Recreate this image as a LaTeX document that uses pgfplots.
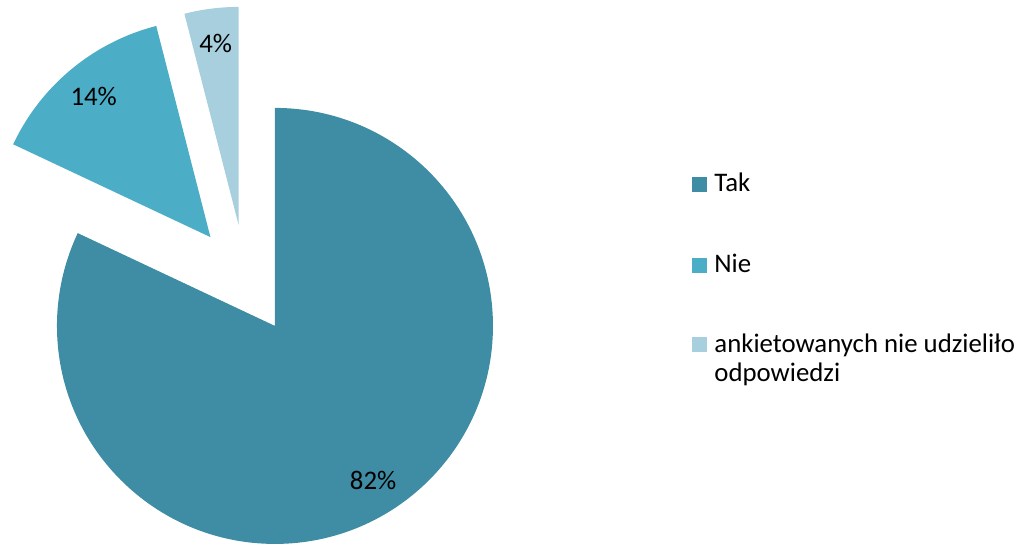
\documentclass[border=0pt]{standalone}
\usepackage{pgfplots}
\pgfplotsset{compat=1.18}
\usepackage{pgfplotstable}
\usepackage{fontspec}
\setmainfont{Carlito}
\definecolor{cTak}{HTML}{3E8DA4}
\definecolor{cNie}{HTML}{4BADC6}
\definecolor{cBrak}{HTML}{A8CFDD}

\pgfplotstableread[col sep=comma]{
label,value
Tak,82
Nie,14
Brak,4
}\piedata

\begin{document}
\begin{tikzpicture}
\pgfplotstablegetelem{0}{value}\of\piedata \let\vA\pgfplotsretval
\pgfplotstablegetelem{1}{value}\of\piedata \let\vB\pgfplotsretval
\pgfplotstablegetelem{2}{value}\of\piedata \let\vC\pgfplotsretval
% geometry in px (axis units), y up
\def\cx{245.5}\def\cy{265.5}\def\dd{55}\def\rr{218}\def\lr{0.84}
\pgfmathsetmacro\aA{90-3.6*\vA}
\pgfmathsetmacro\aB{\aA-3.6*\vB}
\pgfmathsetmacro\aC{\aB-3.6*\vC}
\pgfmathsetmacro\mA{(90+\aA)/2}
\pgfmathsetmacro\mB{(\aA+\aB)/2}
\pgfmathsetmacro\mC{(\aB+\aC)/2}
\pgfmathsetmacro\pAx{\cx+\dd*cos(\mA)}\pgfmathsetmacro\pAy{\cy+\dd*sin(\mA)}
\pgfmathsetmacro\pBx{\cx+\dd*cos(\mB)}\pgfmathsetmacro\pBy{\cy+\dd*sin(\mB)}
\pgfmathsetmacro\pCx{\cx+\dd*cos(\mC)}\pgfmathsetmacro\pCy{\cy+\dd*sin(\mC)}
\pgfmathsetmacro\lAx{\pAx+\lr*\rr*cos(\mA)}\pgfmathsetmacro\lAy{\pAy+\lr*\rr*sin(\mA)}
\pgfmathsetmacro\lBx{\pBx+\lr*\rr*cos(\mB)}\pgfmathsetmacro\lBy{\pBy+\lr*\rr*sin(\mB)}
\pgfmathsetmacro\lCx{\pCx+\lr*\rr*cos(\mC)}\pgfmathsetmacro\lCy{\pCy+\lr*\rr*sin(\mC)}
\begin{axis}[
  x=0.5pt, y=0.5pt,
  xmin=0, xmax=1026, ymin=0, ymax=545,
  hide axis, clip=false,
]
\path (axis cs:0,0) rectangle (axis cs:1026,545);
\fill[cTak] (axis cs:\pAx,\pAy) -- ++(90:109pt) arc[start angle=90, end angle=\aA, radius=109pt] -- cycle;
\fill[cNie] (axis cs:\pBx,\pBy) -- ++(\aA:109pt) arc[start angle=\aA, end angle=\aB, radius=109pt] -- cycle;
\fill[cBrak] (axis cs:\pCx,\pCy) -- ++(\aB:109pt) arc[start angle=\aB, end angle=\aC, radius=109pt] -- cycle;
\node[font=\fontsize{13.4}{16}\selectfont] at (axis cs:\lAx,\lAy) {\vA\%};
\node[font=\fontsize{13.4}{16}\selectfont] at (axis cs:\lBx,\lBy) {\vB\%};
\node[font=\fontsize{13.4}{16}\selectfont] at (axis cs:\lCx,\lCy) {\vC\%};
% legend
\fill[cTak] (axis cs:692,352.5) rectangle (axis cs:707,367.5);
\fill[cNie] (axis cs:692,271.5) rectangle (axis cs:707,286.5);
\fill[cBrak] (axis cs:692,192.5) rectangle (axis cs:707,207.5);
\node[anchor=base west, inner sep=0pt, font=\fontsize{13.4}{16}\selectfont] at (axis cs:714,353) {Tak};
\node[anchor=base west, inner sep=0pt, font=\fontsize{13.4}{16}\selectfont] at (axis cs:714,272) {Nie};
\node[anchor=base west, inner sep=0pt, font=\fontsize{13.4}{16}\selectfont] at (axis cs:714,192) {ankietowanych nie udzieliło};
\node[anchor=base west, inner sep=0pt, font=\fontsize{13.4}{16}\selectfont] at (axis cs:714,163) {odpowiedzi};
\end{axis}
\end{tikzpicture}
\end{document}
